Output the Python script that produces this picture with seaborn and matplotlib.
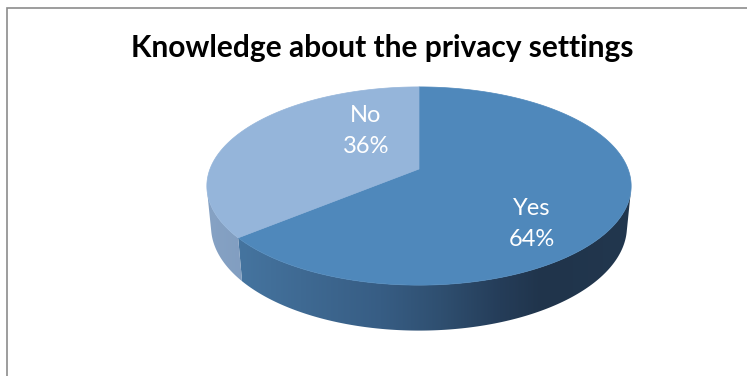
import numpy as np
import matplotlib
matplotlib.use("Agg")
import matplotlib.pyplot as plt
from matplotlib.patches import Polygon
from matplotlib.colors import LinearSegmentedColormap
import seaborn as sns

# ---- data ----
title = "Knowledge about the privacy settings"
categories = ["Yes", "No"]
shares = [64, 36]

# ---- style ----
sns.set_theme(style="white")
plt.rcParams["font.family"] = ["Lato", "DejaVu Sans"]

top_colors = {"Yes": "#4F88BB", "No": "#95B5DA"}
wall_cmaps = {
    "Yes": LinearSegmentedColormap.from_list("yes_wall", [
        (0.00, "#4A7AA8"), (0.08, "#45749F"), (0.22, "#3F6A93"),
        (0.41, "#375D84"), (0.55, "#2F4F70"), (0.69, "#253D59"),
        (0.79, "#20344B"), (1.00, "#22374E")]),
    "No": LinearSegmentedColormap.from_list("no_wall", [
        (0.00, "#86A2C4"), (0.20, "#7C99BC"), (1.00, "#7C99BC")]),
}
# label centre, pixel offset from the pie centre
label_offset = {"Yes": (113, 55), "No": (-53, -38)}

fig = plt.figure(figsize=(7.47, 3.76), dpi=100)
ax = fig.add_axes([0, 0, 1, 1])
ax.set_xlim(0, 747)
ax.set_ylim(376, 0)
ax.axis("off")

# ---- 3-D pie camera ----
cx, cy = 419, 169          # projected pie centre (pixels)
k = 209                    # pixels per unit radius at the centre
tilt = np.radians(27.4)    # elevation of the view
dist = 5.17                # camera distance in radii
thick = 0.22               # pie thickness in radii
sp, cp = np.sin(tilt), np.cos(tilt)


def project(X, Y, Z):
    xv = X
    yv = Y * sp + Z * cp
    d = -Y * cp + Z * sp
    s = dist / (dist - d)
    return cx + k * s * xv, cy - k * s * yv


def rim(theta_deg, z=0.0):
    t = np.radians(theta_deg)
    return project(np.cos(t), np.sin(t), z)


fractions = np.asarray(shares, dtype=float) / sum(shares)

# first slice starts at 12 o'clock and runs clockwise
spans = []
angle = 90.0
for cat, f in zip(categories, fractions):
    end = angle - f * 360.0
    spans.append((cat, end, angle))
    angle = end

# side wall faces the camera where sin(theta) < -1 / (dist * cos(tilt))
lim = np.degrees(np.arcsin(1.0 / (dist * cp)))
vis_ranges = [(-180.0 + lim + b, -lim + b) for b in (-360.0, 0.0, 360.0)]

x_left, x_right = cx - 1.02 * k, cx + 1.02 * k
grad = np.linspace(0, 1, 512)[None, :]

# ---- side walls ----
for cat, lo, hi in spans:
    for v0, v1 in vis_ranges:
        a0, a1 = max(lo, v0), min(hi, v1)
        if a1 <= a0:
            continue
        ts = np.linspace(a0, a1, 300)
        tx, ty = rim(ts, 0.0)
        bx, by = rim(ts, -thick)
        pts = list(zip(tx, ty)) + list(zip(bx[::-1], by[::-1]))
        wall = Polygon(pts, closed=True, facecolor="none", edgecolor="none")
        ax.add_patch(wall)
        im = ax.imshow(grad, cmap=wall_cmaps[cat], aspect="auto",
                       extent=(x_left, x_right, by.max() + 2, ty.min() - 2),
                       interpolation="bilinear", zorder=1)
        im.set_clip_path(wall)

# ---- top faces ----
for cat, lo, hi in spans:
    ts = np.linspace(lo, hi, 500)
    xs, ys = rim(ts, 0.0)
    pts = [(cx, cy)] + list(zip(xs, ys))
    ax.add_patch(Polygon(pts, closed=True, facecolor=top_colors[cat],
                         edgecolor=top_colors[cat], lw=0.5, zorder=2))

# ---- data labels ----
for cat, f in zip(categories, fractions):
    dx, dy = label_offset[cat]
    ax.text(cx + dx, cy + dy, f"{cat}\n{f * 100:.0f}%",
            ha="center", va="center", color="white", fontsize=17,
            linespacing=1.55, zorder=3)

# ---- title ----
ax.text(382, 57, title, ha="center", va="baseline", fontsize=21.5,
        fontweight="bold", color="black", zorder=3)

# ---- chart frame (left and top edges) ----
ax.plot([7, 7, 760], [390, 8, 8], color="#8C8C8C", lw=1.2,
        solid_joinstyle="miter", clip_on=True, zorder=0)

ax.set_xlim(0, 747)
ax.set_ylim(376, 0)
fig.savefig("out.png", dpi=100, facecolor="white")
